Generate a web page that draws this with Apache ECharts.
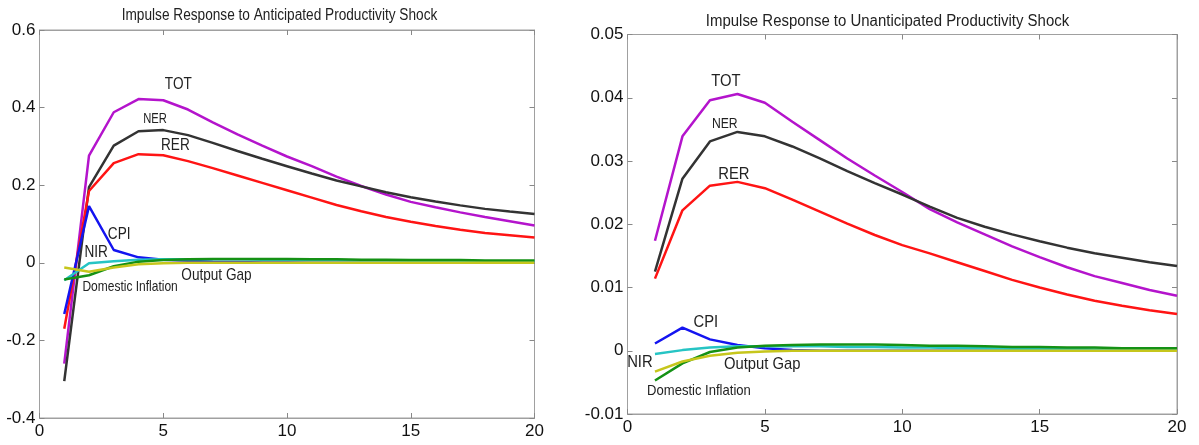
<!DOCTYPE html>
<html>
<head>
<meta charset="utf-8">
<script src="https://cdn.jsdelivr.net/npm/echarts@6/dist/echarts.min.js"></script>
<style>
html,body{margin:0;padding:0;background:#fff;}
#chart{width:1199px;height:445px;}
</style>
</head>
<body>
<div id="chart"></div>
<script>
// ---- data ----
var periods = [1,2,3,4,5,6,7,8,9,10,11,12,13,14,15,16,17,18,19,20];
var xTicks = [0,5,10,15,20];

// Anticipated productivity shock
var totA = [-0.26,0.276,0.388,0.422,0.419,0.395,0.362,0.331,0.302,0.274,0.249,0.222,0.198,0.176,0.157,0.143,0.130,0.118,0.107,0.096];
var nerA = [-0.305,0.195,0.302,0.339,0.342,0.329,0.309,0.288,0.268,0.249,0.230,0.212,0.197,0.182,0.169,0.158,0.148,0.139,0.132,0.126];
var rerA = [-0.17,0.185,0.257,0.280,0.277,0.262,0.244,0.225,0.206,0.187,0.168,0.149,0.133,0.118,0.106,0.095,0.085,0.077,0.071,0.065];
var cpiA = [-0.132,0.146,0.033,0.014,0.008,0.005,0.003,0.002,0.001,0.001,0,0,0,0,0,0,0,0,0,0];
var nirA = [-0.045,-0.001,0.004,0.008,0.009,0.009,0.009,0.009,0.008,0.008,0.007,0.007,0.006,0.006,0.005,0.005,0.005,0.004,0.004,0.004];
var gapA = [-0.012,-0.023,-0.012,-0.004,-0.001,0,0,0,0,0,0,0,0,0,0,0,0,0,0,0];
var domA = [-0.043,-0.032,-0.009,0.003,0.007,0.009,0.010,0.010,0.010,0.010,0.009,0.009,0.008,0.008,0.007,0.007,0.007,0.006,0.006,0.006];

// Unanticipated productivity shock
var totU = [0.0174,0.0339,0.0396,0.0406,0.0392,0.0362,0.0333,0.0304,0.0277,0.0251,0.0224,0.0203,0.0184,0.0165,0.0148,0.0132,0.0118,0.0107,0.0096,0.0087];
var nerU = [0.0125,0.0272,0.0331,0.0346,0.0339,0.0323,0.0304,0.0284,0.0265,0.0247,0.0228,0.0210,0.0196,0.0184,0.0173,0.0163,0.0154,0.0147,0.0140,0.0134];
var rerU = [0.0114,0.0222,0.0261,0.0267,0.0257,0.0239,0.0220,0.0201,0.0183,0.0167,0.0154,0.0140,0.0126,0.0112,0.0100,0.0089,0.0079,0.0071,0.0064,0.0058];
var cpiU = [0.00115,0.00365,0.0018,0.0009,0.0004,0.0001,0,0,0,0,0,0,0,0,0,0,0,0,0,0];
var nirU = [-0.0005,0.0001,0.0005,0.0007,0.0007,0.0007,0.0007,0.0006,0.0006,0.0005,0.0005,0.0004,0.0004,0.0003,0.0003,0.0003,0.0002,0.0002,0.0002,0.0002];
var gapU = [-0.0033,-0.0017,-0.0008,-0.0003,-0.0001,0,0,0,0,0,0,0,0,0,0,0,0,0,0,0];
var domU = [-0.0047,-0.0020,-0.0002,0.0005,0.0008,0.0009,0.0010,0.0010,0.0010,0.0009,0.0008,0.0008,0.0007,0.0006,0.0006,0.0005,0.0005,0.0004,0.0004,0.0004];

var titles = ['Impulse Response to Anticipated Productivity Shock','Impulse Response to Unanticipated Productivity Shock'];
var seriesNames = ['TOT','NER','RER','CPI','NIR','Output Gap','Domestic Inflation'];

// ---- annotation placement (data coordinates) ----
var labelsA = [
  ['TOT',5.61,0.459,17],['NER',4.67,0.369,14],['RER',5.49,0.303,17],
  ['CPI',3.22,0.074,17],['NIR',2.29,0.028,17],
  ['Output Gap',7.15,-0.033,17],['Domestic Inflation',3.66,-0.0615,15]
];
var labelsU = [
  ['TOT',3.58,0.0426,17],['NER',3.54,0.0358,14],['RER',3.87,0.0279,17],
  ['CPI',2.85,0.0045,17],['NIR',0.45,-0.0019,17],
  ['Output Gap',4.9,-0.0021,17],['Domestic Inflation',2.6,-0.0064,15]
];

// ---- styles ----
var colors = ['#b414cc','#333333','#ff1414','#1414f0','#26c4c4','#c6c61c','#159115'];
var SANS = "'Liberation Sans',Arial,sans-serif";
var frameColor = '#a0a0a0';

function pairs(arr){ return periods.map(function(p,i){ return [p, arr[i]]; }); }

function fmt(v){
  var r = Math.round(v*1000)/1000;
  if (Math.abs(r) < 1e-9) return '0';
  return String(r);
}

function xAxes(gi, pos, showLabel){
  return {
    type:'value', gridIndex:gi, position:pos, min:0, max:20, interval:5,
    axisLine:{show:true, onZero:false, lineStyle:{color:frameColor, width:1}},
    axisTick:{show:true, inside:true, length:5, lineStyle:{color:'#888'}},
    axisLabel:{show:showLabel, color:'#111', fontFamily:SANS, fontSize:17, margin:5},
    splitLine:{show:false}
  };
}
function yAxes(gi, pos, showLabel, mn, mx, iv){
  return {
    type:'value', gridIndex:gi, position:pos, min:mn, max:mx, interval:iv,
    axisLine:{show:true, onZero:false, lineStyle:{color:frameColor, width:1}},
    axisTick:{show:true, inside:true, length:5, lineStyle:{color:'#888'}},
    axisLabel:{show:showLabel, color:'#111', fontFamily:SANS, fontSize:17, margin:showLabel?4:0, formatter:fmt},
    splitLine:{show:false}
  };
}

var dataA = [totA,nerA,rerA,cpiA,nirA,gapA,domA];
var dataU = [totU,nerU,rerU,cpiU,nirU,gapU,domU];
var drawOrder = [0,1,2,3,4,6,5];

var series = [];
function addPanel(data, xi, yi){
  drawOrder.forEach(function(k){
    series.push({
      name: seriesNames[k], type:'line', xAxisIndex:xi, yAxisIndex:yi,
      data: pairs(data[k]), showSymbol:false, symbol:'none', smooth:false,
      lineStyle:{color:colors[k], width:2.5}, itemStyle:{color:colors[k]},
      z: 2, silent:true
    });
  });
}
addPanel(dataA, 0, 0);
addPanel(dataU, 2, 2);

var chart = echarts.init(document.getElementById('chart'), null, {renderer:'canvas'});
chart.setOption({
  animation:false,
  backgroundColor:'#ffffff',
  grid:[
    {left:39.5, right:664.5, top:30, bottom:27, show:true, borderColor:frameColor, borderWidth:1, containLabel:false},
    {left:627.5, right:22, top:34.5, bottom:31, show:true, borderColor:frameColor, borderWidth:1, containLabel:false}
  ],
  xAxis:[ xAxes(0,'bottom',true), xAxes(0,'top',false), xAxes(1,'bottom',true), xAxes(1,'top',false) ],
  yAxis:[
    yAxes(0,'left',true,-0.4,0.6,0.2), yAxes(0,'right',false,-0.4,0.6,0.2),
    yAxes(1,'left',true,-0.01,0.05,0.01), yAxes(1,'right',false,-0.01,0.05,0.01)
  ],
  series: series
});

// condensed text (titles and in-plot labels) placed through the axes' own scales
var graphics = [];
function condensed(txt, x, y, size, sx){
  return {type:'text', x:x, y:y, scaleX:sx, scaleY:1, silent:true, z:10,
    style:{text:txt, fill:'#222', font:'normal '+size+'px '+SANS, textAlign:'center', textVerticalAlign:'middle'}};
}
graphics.push(condensed(titles[0], 279.5, 16, 16, 0.853));
graphics.push(condensed(titles[1], 887.5, 22, 16, 0.935));
function addLabels(labels, xi, yi, sx){
  labels.forEach(function(l){
    var p = chart.convertToPixel({xAxisIndex:xi, yAxisIndex:yi}, [l[1], l[2]]);
    graphics.push(condensed(l[0], p[0], p[1], l[3], sx));
  });
}
addLabels(labelsA, 0, 0, 0.8);
addLabels(labelsU, 2, 2, 0.87);
chart.setOption({graphic: graphics});
</script>
</body>
</html>
